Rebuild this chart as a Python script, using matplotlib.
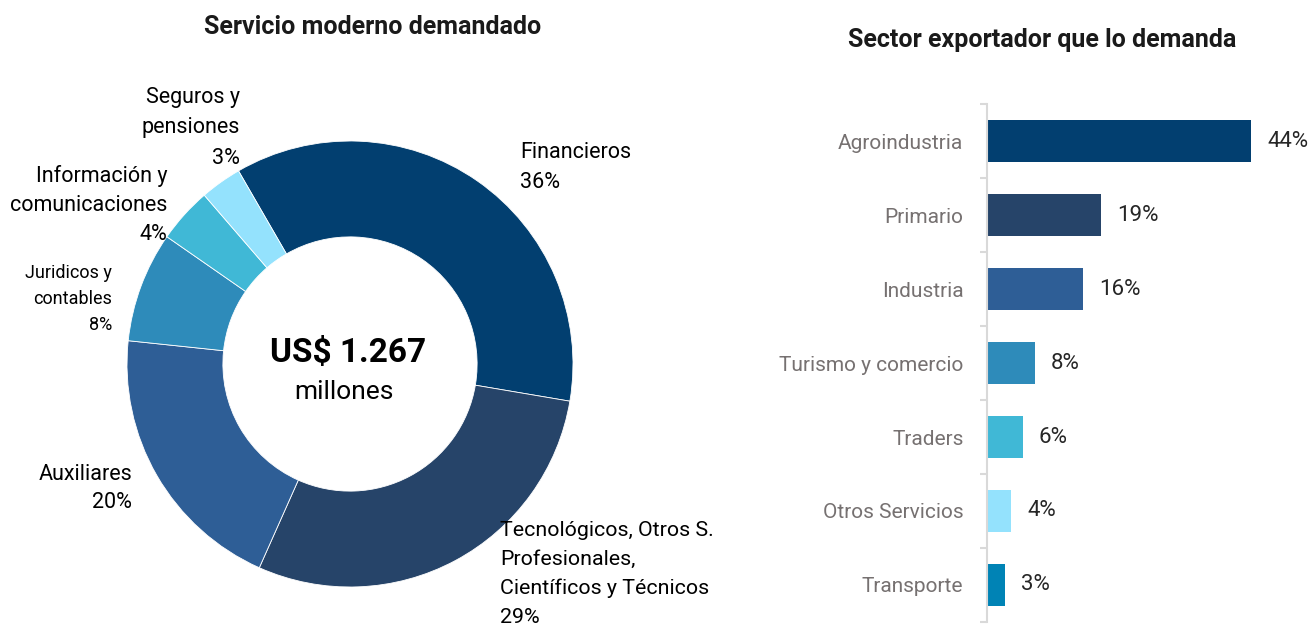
import matplotlib.pyplot as plt

plt.rcParams['font.family'] = ['Roboto', 'DejaVu Sans']

# Left: modern services demanded (share of US$ 1.267 millones)
services = ["Financieros",
            "Tecnológicos, Otros S.\nProfesionales,\nCientíficos y Técnicos",
            "Auxiliares",
            "Juridicos y\ncontables",
            "Información y\ncomunicaciones",
            "Seguros y\npensiones"]
service_share = [36, 29, 20, 8, 4, 3]
service_colors = ["#023F70", "#264469", "#2E5E96", "#2E8BBA", "#40B8D6", "#94E2FD"]
total_text = "US$ 1.267"

# Right: exporting sector that demands it
sectors = ["Agroindustria", "Primario", "Industria", "Turismo y comercio",
           "Traders", "Otros Servicios", "Transporte"]
sector_share = [44, 19, 16, 8, 6, 4, 3]
sector_colors = ["#023F70", "#264469", "#2E5E96", "#2E8BBA", "#40B8D6", "#94E2FD", "#0083B5"]

W, H = 1312, 625
fig = plt.figure(figsize=(W / 100, H / 100), dpi=100)


def fx(x):
    return x / W


def fy(y):
    return 1 - y / H


# ---- donut ----
cx, cy, R, box = 350, 364, 223, 240
ax = fig.add_axes([fx(cx - box), fy(cy + box), 2 * box / W, 2 * box / H])
ax.pie(service_share, colors=service_colors, startangle=120, counterclock=False,
       radius=1, wedgeprops=dict(width=0.43, edgecolor="white", linewidth=0.6))
lim = box / R
ax.set_xlim(-lim, lim)
ax.set_ylim(-lim, lim)
ax.axis("off")

fig.text(fx(348), fy(353), total_text, ha="center", va="center",
         fontsize=24, fontweight="bold", color="black")
fig.text(fx(344), fy(392), "millones", ha="center", va="center",
         fontsize=19, color="black")

# label anchors: x, y of first line, alignment, size, line step (pixels)
label_pos = [(520, 153, "left", 15.5, 30),
             (500, 531, "left", 15.4, 28.7),
             (132, 474, "right", 15.5, 29),
             (112, 273, "right", 13, 26),
             (167, 176, "right", 15.5, 29.5),
             (240, 98, "right", 15.5, 30)]
for name, v, (x, y, ha, fs, step) in zip(services, service_share, label_pos):
    lines = name.split("\n") + [f"{v}%"]
    for k, line in enumerate(lines):
        fig.text(fx(x), fy(y + k * step), line, ha=ha, va="center",
                 fontsize=fs, color="black")

fig.text(fx(373), fy(27), "Servicio moderno demandado", ha="center", va="center",
         fontsize=18, fontweight="bold", color="#1a1a1a")

# ---- bars ----
x0, x1, ytop, ybot = 987, 1290, 104, 622
axb = fig.add_axes([fx(x0), fy(ybot), (x1 - x0) / W, (ybot - ytop) / H])
pos = list(range(len(sectors)))
axb.barh(pos, sector_share, height=0.57, color=sector_colors)
axb.set_xlim(0, (x1 - x0) / 6.0)
axb.set_ylim(len(sectors) - 0.5, -0.5)
for s in ["top", "right", "bottom"]:
    axb.spines[s].set_visible(False)
axb.spines["left"].set_color("#D9D9D9")
axb.spines["left"].set_linewidth(1.5)
axb.set_xticks([])
axb.set_yticks(pos)
axb.set_yticklabels(sectors, fontsize=15, color="#767171")
axb.tick_params(axis="y", which="major", length=0, pad=17)
axb.set_yticks([p - 0.5 for p in pos] + [len(sectors) - 0.5], minor=True)
axb.tick_params(axis="y", which="minor", length=5, width=1.5, color="#D9D9D9")
for p, v in zip(pos, sector_share):
    axb.annotate(f"{v}%", (v, p), xytext=(11.5, 0), textcoords="offset points",
                 ha="left", va="center", fontsize=16, color="#262626")

fig.text(fx(1042), fy(40), "Sector exportador que lo demanda", ha="center", va="center",
         fontsize=18, fontweight="bold", color="#1a1a1a")

fig.savefig("out.png", dpi=100)
